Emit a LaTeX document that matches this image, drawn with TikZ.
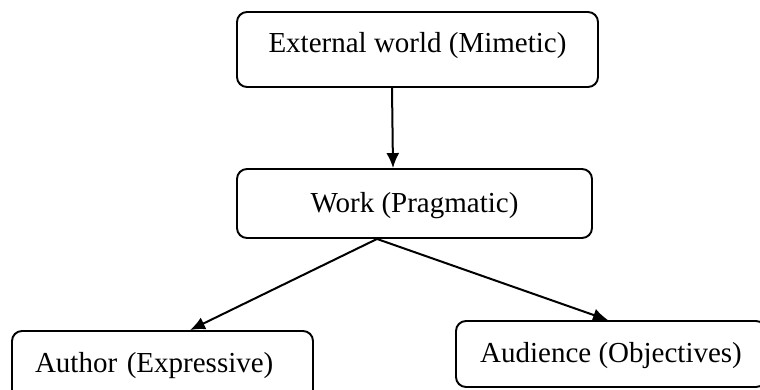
\documentclass[tikz,border=0pt]{standalone}
\usepackage{fontspec}
\setmainfont{Liberation Serif}
\usetikzlibrary{arrows.meta}
\begin{document}
\begin{tikzpicture}[x=1pt,y=-1pt,
  box/.style={draw,line width=1.9pt,rounded corners=10pt,font=\fontsize{29}{34}\selectfont,inner sep=0pt,align=center},
  conn/.style={line width=2pt,-{Latex[length=15pt,width=13pt]}}]
\clip (0,0) rectangle (760,389);
\fill[white] (0,0) rectangle (760,389);
\node[box,minimum width=361pt,minimum height=75pt,text height=20pt,text depth=15pt] (ext) at (417.5,49.5) {External world (Mimetic)};
\node[box,minimum width=355pt,minimum height=69pt,text height=20pt,text depth=3pt] (work) at (414.5,203.5) {Work (Pragmatic)};
\node[box,minimum height=69pt,text width=255pt,align=left,inner xsep=23pt,text height=19pt,text depth=6pt] (author) at (162.5,365.5) {Author (Expressive)};
\node[box,minimum width=310pt,minimum height=66pt,text height=20pt,text depth=4pt] (aud) at (611,354) {Audience (Objectives)};
\coordinate (ws) at ([xshift=-37.5pt]work.south);
\draw[conn] ([xshift=-25.5pt]ext.south) -- ([xshift=-21.5pt]work.north);
\draw[conn] (ws) -- ([xshift=27.5pt]author.north);
\draw[conn] (ws) -- ([xshift=-3pt]aud.north);
\end{tikzpicture}
\end{document}
